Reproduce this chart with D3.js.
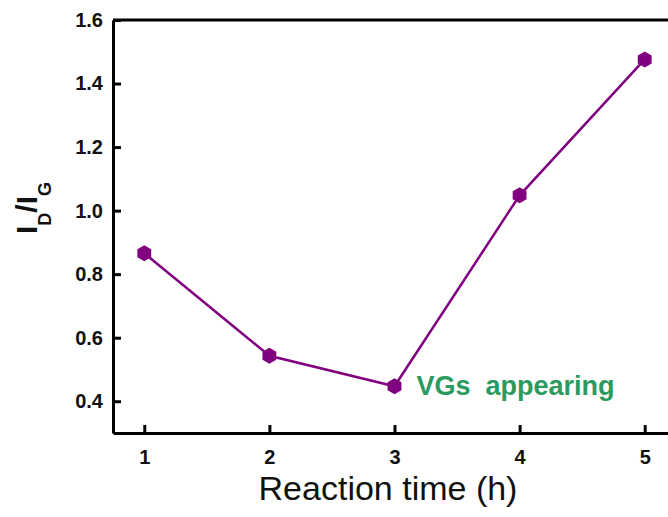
<!DOCTYPE html>
<meta charset="utf-8">
<style>
body { margin: 0; background: #fff; }
svg { display: block; font-family: Arial, "Liberation Sans", sans-serif; }
.axis path, .axis line { stroke: #000; stroke-width: 3; }
.axis text { font-size: 20px; font-weight: bold; fill: #111; }
</style>
<script src="https://d3js.org/d3.v7.min.js"></script>
<svg width="668" height="517"></svg>
<script>

var hours = [1, 2, 3, 4, 5];
var ratio = [0.866, 0.543, 0.447, 1.048, 1.476];
var xTicks = [1, 2, 3, 4, 5];
var yTicks = [0.4, 0.6, 0.8, 1.0, 1.2, 1.4, 1.6];

var svg = d3.select("svg"),
    margin = {top: 20, left: 113},
    width = 563,
    height = 413;

var x = d3.scaleLinear().domain([0.75, 5.25]).range([0, width]),
    y = d3.scaleLinear().domain([0.3, 1.6]).range([height, 0]);

var g = svg.append("g")
    .attr("transform", "translate(" + margin.left + "," + margin.top + ")");

// frame: top edge
g.append("line")
    .attr("x1", 0).attr("x2", width)
    .attr("y1", 0).attr("y2", 0)
    .attr("stroke", "#000").attr("stroke-width", 3);

g.append("g")
    .attr("class", "axis")
    .attr("transform", "translate(0," + height + ")")
    .call(d3.axisBottom(x).tickValues(xTicks).tickSizeInner(-8).tickSizeOuter(0).tickPadding(17)
      .tickFormat(d3.format("d")));

g.append("g")
    .attr("class", "axis")
    .call(d3.axisLeft(y).tickValues(yTicks).tickSizeInner(-8).tickSizeOuter(0).tickPadding(10)
      .tickFormat(d3.format(".1f")));

var pts = hours.map(function(h, i) { return [h, ratio[i]]; });

g.append("path")
    .datum(pts)
    .attr("fill", "none")
    .attr("stroke", "#800080")
    .attr("stroke-width", 2.5)
    .attr("d", d3.line().x(function(d) { return x(d[0]); }).y(function(d) { return y(d[1]); }));

function hexagon(r) {
  var p = [];
  for (var k = 0; k < 6; k++) {
    var a = Math.PI / 3 * k - Math.PI / 2;
    p.push([r * Math.cos(a), r * Math.sin(a)]);
  }
  return "M" + p.join("L") + "Z";
}

g.selectAll(".pt")
  .data(pts)
  .enter().append("path")
    .attr("class", "pt")
    .attr("transform", function(d) { return "translate(" + x(d[0]) + "," + y(d[1]) + ")"; })
    .attr("d", hexagon(8))
    .attr("fill", "#800080");

// annotation
g.append("text")
    .attr("x", x(3) + 22)
    .attr("y", y(0.447) + 9)
    .attr("fill", "#2a9a5e")
    .attr("font-weight", "bold")
    .attr("font-size", "27px")
    .attr("xml:space", "preserve")
    .text("VGs  appearing");

// axis titles
svg.append("text")
    .attr("x", 388)
    .attr("y", 500)
    .attr("text-anchor", "middle")
    .attr("font-size", "34px")
    .attr("fill", "#111")
    .text("Reaction time (h)");

var yl = svg.append("text")
    .attr("transform", "translate(37,208) rotate(-90)")
    .attr("text-anchor", "middle")
    .attr("font-weight", "bold")
    .attr("font-size", "30px")
    .attr("fill", "#111");
yl.append("tspan").text("I");
yl.append("tspan").attr("font-size", "18px").attr("dy", 14).text("D");
yl.append("tspan").attr("dy", -14).text("/I");
yl.append("tspan").attr("font-size", "18px").attr("dy", 14).text("G");

</script>
